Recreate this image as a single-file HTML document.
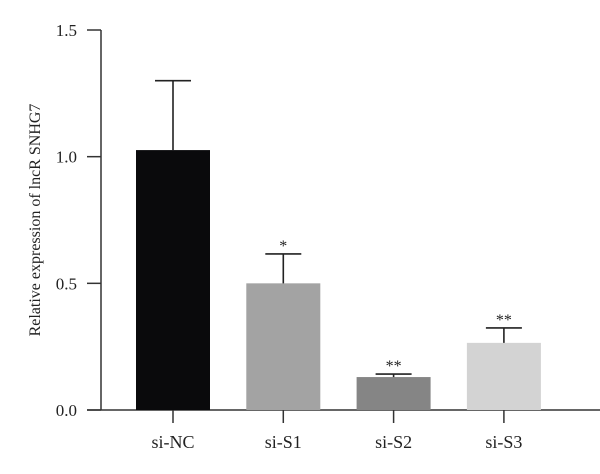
<!DOCTYPE html>
<html><head><meta charset="utf-8"><style>
body{margin:0;background:#fff;}
svg text{font-family:"Liberation Serif",serif;fill:#222;}
</style></head><body>
<svg width="600" height="469" viewBox="0 0 600 469">
<g id="axes" stroke="#333" stroke-width="1.5" fill="none"></g>
<g id="bars"></g>
<text transform="translate(40,220) rotate(-90)" text-anchor="middle" font-size="16">Relative expression of lncR SNHG7</text>
</svg>
<script>
const categories=["si-NC","si-S1","si-S2","si-S3"];
const values=[1.026,0.50,0.13,0.265];
const errors=[0.274,0.116,0.012,0.059];
const stars=["","*","**","**"];
const colors=["#0a0a0c","#a3a3a3","#858585","#d3d3d3"];
const yTicks=[0,0.5,1.0,1.5];
const yTickLabels=["0.0","0.5","1.0","1.5"];
const NS="http://www.w3.org/2000/svg";
const svg=document.querySelector("svg"),axes=document.getElementById("axes"),bars=document.getElementById("bars");
const y=v=>410-v*253.33;
const x=i=>173+i*110.3;
const bw=74;
function mk(tag,attrs,parent){const e=document.createElementNS(NS,tag);for(const k in attrs)e.setAttribute(k,attrs[k]);parent.appendChild(e);return e;}
let l=mk("line",{x1:101,y1:y(1.5),x2:101,y2:410},axes);


l=mk("line",{x1:87,y1:410,x2:600,y2:410},axes);


yTicks.forEach((t,i)=>{
  const tk=mk("line",{x1:87,x2:101,y1:y(t),y2:y(t)},axes);
  
  
  const tx=mk("text",{x:77,y:y(t)+6,"text-anchor":"end","font-size":"17"},svg);
  tx.textContent=yTickLabels[i];
  
  
});
categories.forEach((c,i)=>{
  const cx=x(i);
  const r=mk("rect",{x:cx-bw/2,y:y(values[i]),width:bw,height:410-y(values[i]),fill:colors[i]},bars);
  
  
  const top=y(values[i]+errors[i]);
  const e=mk("path",{d:`M${cx},${y(values[i])}V${top}M${cx-18},${top}H${cx+18}`,stroke:"#222","stroke-width":"1.6",fill:"none"},bars);
  
  
  if(stars[i]){
    const s=mk("text",{x:cx,y:top-3,"text-anchor":"middle","font-size":"16"},svg);
    s.textContent=stars[i];
    
    
  }
  const tk=mk("line",{x1:cx,x2:cx,y1:410,y2:423},axes);
  
  
  const t=mk("text",{x:cx,y:448,"text-anchor":"middle","font-size":"18"},svg);
  t.textContent=c;
  
  
});
</script>
</body></html>
